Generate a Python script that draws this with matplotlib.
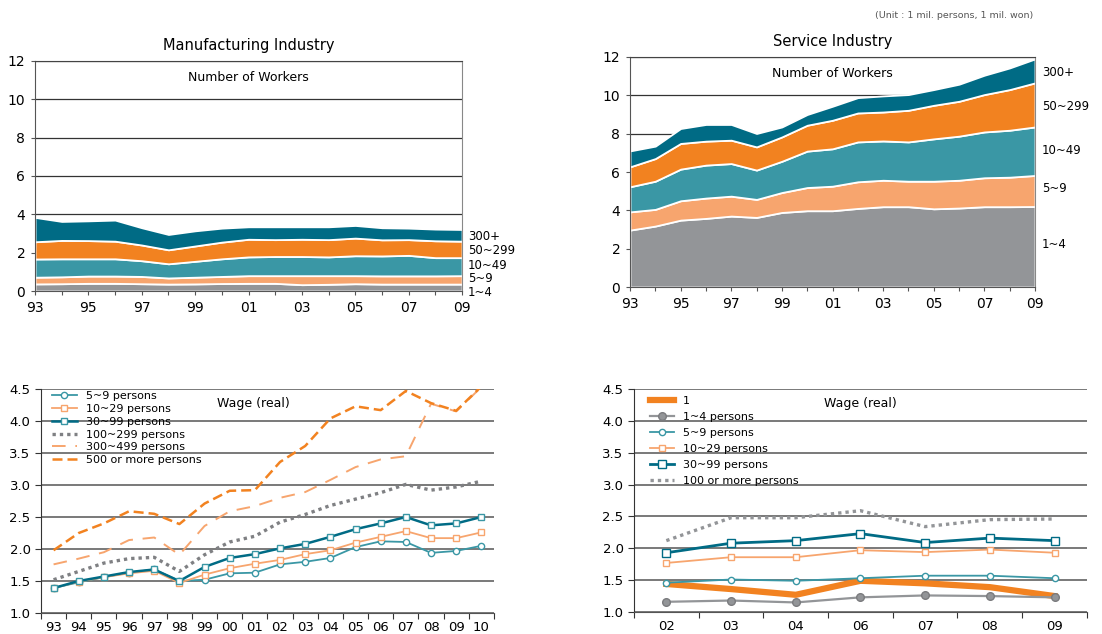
import numpy as np
import matplotlib
matplotlib.use('Agg')
import matplotlib.pyplot as plt

# ==========================
#      Data
# ==========================
years = ['93', '94', '95', '96', '97', '98', '99', '00', '01',
         '02', '03', '04', '05', '06', '07', '08', '09']
size_labels = ['1~4', '5~9', '10~49', '50~299', '300+']

# Manufacturing, number of workers by firm size (mil. persons)
mfg_1_4 = [0.37, 0.38, 0.40, 0.40, 0.38, 0.36, 0.37, 0.39, 0.40, 0.40, 0.33, 0.35, 0.38, 0.36, 0.36, 0.36, 0.36]
mfg_5_9 = [0.35, 0.36, 0.38, 0.38, 0.38, 0.32, 0.35, 0.37, 0.40, 0.40, 0.47, 0.45, 0.42, 0.43, 0.43, 0.43, 0.44]
mfg_10_49 = [0.95, 0.94, 0.90, 0.90, 0.82, 0.74, 0.83, 0.92, 0.98, 1.00, 1.00, 0.98, 1.04, 1.04, 1.07, 0.95, 0.94]
mfg_50_299 = [0.90, 0.96, 0.95, 0.92, 0.82, 0.73, 0.80, 0.87, 0.92, 0.88, 0.90, 0.90, 0.92, 0.84, 0.82, 0.88, 0.86]
mfg_300 = [1.27, 0.99, 1.03, 1.10, 0.90, 0.80, 0.79, 0.73, 0.65, 0.67, 0.65, 0.67, 0.66, 0.63, 0.60, 0.61, 0.61]

# Service, number of workers by firm size (mil. persons)
svc_1_4 = [2.97, 3.18, 3.49, 3.58, 3.70, 3.63, 3.89, 3.98, 3.98, 4.10, 4.19, 4.19, 4.08, 4.12, 4.19, 4.19, 4.20]
svc_5_9 = [0.95, 0.87, 1.01, 1.06, 1.04, 0.94, 1.04, 1.21, 1.28, 1.39, 1.38, 1.33, 1.44, 1.45, 1.51, 1.54, 1.62]
svc_10_49 = [1.31, 1.47, 1.65, 1.72, 1.70, 1.53, 1.63, 1.90, 1.95, 2.08, 2.05, 2.05, 2.21, 2.30, 2.39, 2.45, 2.53]
svc_50_299 = [1.04, 1.18, 1.34, 1.25, 1.22, 1.21, 1.27, 1.35, 1.49, 1.51, 1.51, 1.65, 1.75, 1.82, 1.95, 2.12, 2.30]
svc_300 = [0.83, 0.65, 0.78, 0.87, 0.82, 0.70, 0.52, 0.56, 0.73, 0.80, 0.84, 0.82, 0.82, 0.89, 1.01, 1.13, 1.25]

# Manufacturing wage (real, mil. won)
wage_years_m = ['93', '94', '95', '96', '97', '98', '99', '00', '01',
                '02', '03', '04', '05', '06', '07', '08', '09', '10']
wm_5_9 = [1.39, 1.48, 1.56, 1.63, 1.68, 1.50, 1.52, 1.62, 1.63, 1.76, 1.80, 1.86, 2.03, 2.12, 2.11, 1.94, 1.97, 2.05]
wm_10_29 = [1.39, 1.49, 1.56, 1.62, 1.66, 1.47, 1.60, 1.70, 1.77, 1.83, 1.92, 1.98, 2.10, 2.19, 2.28, 2.17, 2.17, 2.26]
wm_30_99 = [1.39, 1.50, 1.57, 1.64, 1.68, 1.50, 1.72, 1.86, 1.92, 2.01, 2.08, 2.19, 2.31, 2.40, 2.50, 2.37, 2.40, 2.50]
wm_100_299 = [1.52, 1.65, 1.78, 1.85, 1.87, 1.65, 1.91, 2.11, 2.20, 2.42, 2.54, 2.68, 2.78, 2.88, 3.01, 2.92, 2.97, 3.06]
wm_300_499 = [1.76, 1.85, 1.95, 2.14, 2.18, 1.91, 2.36, 2.59, 2.67, 2.80, 2.89, 3.08, 3.28, 3.40, 3.45, 4.27, 4.15, 4.53]
wm_500 = [1.98, 2.25, 2.40, 2.59, 2.55, 2.39, 2.71, 2.91, 2.92, 3.36, 3.61, 4.04, 4.23, 4.17, 4.47, 4.28, 4.16, 4.54]

# Service wage (real, mil. won)
wage_years_s = ['02', '03', '04', '06', '07', '08', '09']
ws_1 = [1.44, 1.36, 1.27, 1.49, 1.45, 1.39, 1.25]
ws_1_4 = [1.16, 1.18, 1.15, 1.23, 1.26, 1.25, 1.23]
ws_5_9 = [1.46, 1.51, 1.49, 1.53, 1.57, 1.57, 1.53]
ws_10_29 = [1.77, 1.86, 1.86, 1.97, 1.94, 1.98, 1.93]
ws_30_99 = [1.93, 2.08, 2.12, 2.23, 2.09, 2.16, 2.12]
ws_100 = [2.12, 2.48, 2.48, 2.59, 2.34, 2.45, 2.46]

# ==========================
#        Plotting
# ==========================
plt.rcParams['font.family'] = ['DejaVu Sans']
GRAY = '#939598'
LORANGE = '#F7A56E'
TEAL = '#3A97A5'
ORANGE = '#F28220'
DTEAL = '#006B85'
layer_colors = [GRAY, LORANGE, TEAL, ORANGE, DTEAL]

fig = plt.figure(figsize=(11.02, 6.34), dpi=100)


def stacked_panel(rect, layers, title, label_y, label_x):
    ax = fig.add_axes(rect)
    x = np.arange(len(years))
    ax.set_axisbelow(True)
    ax.yaxis.grid(True, color='#333333', lw=0.9)
    ax.stackplot(x, *layers, colors=layer_colors, edgecolor='white', linewidth=1.3)
    ax.set_xlim(0, len(years) - 1)
    ax.set_ylim(0, 12)
    ax.set_yticks(range(0, 13, 2))
    ax.set_xticks(x)
    ax.set_xticklabels([y if i % 2 == 0 else '' for i, y in enumerate(years)])
    ax.tick_params(labelsize=10, length=3, color='#555555', pad=4)
    ax.spines['top'].set_color('#444444')
    ax.spines['right'].set_color('#888888')
    ax.spines['left'].set_color('#555555')
    ax.spines['bottom'].set_color('#555555')
    ax.set_title(title, fontsize=10.5, pad=8)
    ax.text(0.5, 0.93, 'Number of Workers', transform=ax.transAxes,
            ha='center', va='center', fontsize=9)
    for lab, yy in zip(size_labels[::-1], label_y):
        fig.text(label_x / 1102, 1 - yy / 634, lab, fontsize=8.5, va='center')
    return ax


stacked_panel([0.0318, 0.541, 0.3875, 0.3628],
              [mfg_1_4, mfg_5_9, mfg_10_49, mfg_50_299, mfg_300],
              'Manufacturing Industry', [237, 251, 265, 279, 293], 468)
stacked_panel([0.5717, 0.5473, 0.3675, 0.3628],
              [svc_1_4, svc_5_9, svc_10_49, svc_50_299, svc_300],
              'Service Industry', [72, 107, 151, 189, 245], 1042)

fig.text(1033 / 1102, 1 - 15 / 634, '(Unit : 1 mil. persons, 1 mil. won)',
         ha='right', va='center', fontsize=6.8, color='#555555')


def wage_panel(rect, cats):
    ax = fig.add_axes(rect)
    n = len(cats)
    ax.set_xlim(-0.5, n - 0.5)
    ax.set_ylim(1.0, 4.5)
    ax.set_yticks(np.arange(1.0, 4.51, 0.5))
    ax.set_yticklabels(['%.1f' % v for v in np.arange(1.0, 4.51, 0.5)])
    ax.set_axisbelow(True)
    ax.yaxis.grid(True, color='#555555', lw=1.1)
    ax.set_xticks(np.arange(-0.5, n, 1.0))
    ax.set_xticklabels([])
    ax.set_xticks(np.arange(n), minor=True)
    ax.set_xticklabels(cats, minor=True)
    ax.tick_params(axis='x', which='minor', length=0, labelsize=9.5, pad=6)
    ax.tick_params(axis='x', which='major', length=4, color='#333333')
    ax.tick_params(axis='y', labelsize=9.5, length=4, color='#333333')
    for s in ['top', 'right']:
        ax.spines[s].set_visible(False)
    ax.spines['left'].set_color('#333333')
    ax.spines['bottom'].set_color('#555555')
    ax.text(0.47 if n > 10 else 0.5, 0.935, 'Wage (real)', transform=ax.transAxes,
            ha='center', va='center', fontsize=9)
    return ax


# Manufacturing wage
ax3 = wage_panel([0.0372, 0.0331, 0.411, 0.3533], wage_years_m)
xm = np.arange(len(wage_years_m))
ax3.plot(xm, wm_5_9, color=TEAL, lw=1.3, marker='o', ms=4.5, mfc='white', mec=TEAL, label='5~9 persons')
ax3.plot(xm, wm_10_29, color=LORANGE, lw=1.3, marker='s', ms=4.5, mfc='white', mec=LORANGE, label='10~29 persons')
ax3.plot(xm, wm_30_99, color=DTEAL, lw=1.8, marker='s', ms=4.5, mfc='white', mec=TEAL, label='30~99 persons')
ax3.plot(xm, wm_100_299, color='#7F8083', lw=2.4, ls=(0, (1, 1.2)), label='100~299 persons')
ax3.plot(xm, wm_300_499, color=LORANGE, lw=1.4, ls=(0, (7, 5)), label='300~499 persons')
ax3.plot(xm, wm_500, color=ORANGE, lw=1.8, ls=(0, (4, 2)), label='500 or more persons')
ax3.legend(loc='upper left', bbox_to_anchor=(0.01, 1.02), frameon=False, fontsize=8,
           handlelength=2.2, labelspacing=0.25, handletextpad=0.8, borderaxespad=0.2)

# Service wage
ax4 = wage_panel([0.5753, 0.0347, 0.411, 0.3517], wage_years_s)
xs = np.arange(len(wage_years_s))
ax4.plot(xs, ws_1, color=ORANGE, lw=4.5, label='1')
ax4.plot(xs, ws_1_4, color=GRAY, lw=1.6, marker='o', ms=5.5, mfc=GRAY, mec='#7A7B7E', label='1~4 persons')
ax4.plot(xs, ws_5_9, color=TEAL, lw=1.3, marker='o', ms=4.5, mfc='white', mec=TEAL, label='5~9 persons')
ax4.plot(xs, ws_10_29, color=LORANGE, lw=1.3, marker='s', ms=4.5, mfc='white', mec=LORANGE, label='10~29 persons')
ax4.plot(xs, ws_30_99, color=DTEAL, lw=2.0, marker='s', ms=5.5, mfc='white', mec=DTEAL, label='30~99 persons')
ax4.plot(xs, ws_100, color=GRAY, lw=2.4, ls=(0, (1, 1.2)), label='100 or more persons')
ax4.legend(loc='upper left', bbox_to_anchor=(0.02, 1.0), frameon=False, fontsize=8,
           handlelength=2.2, labelspacing=0.55, handletextpad=0.8, borderaxespad=0.2)

plt.savefig('out.png', dpi=100)
